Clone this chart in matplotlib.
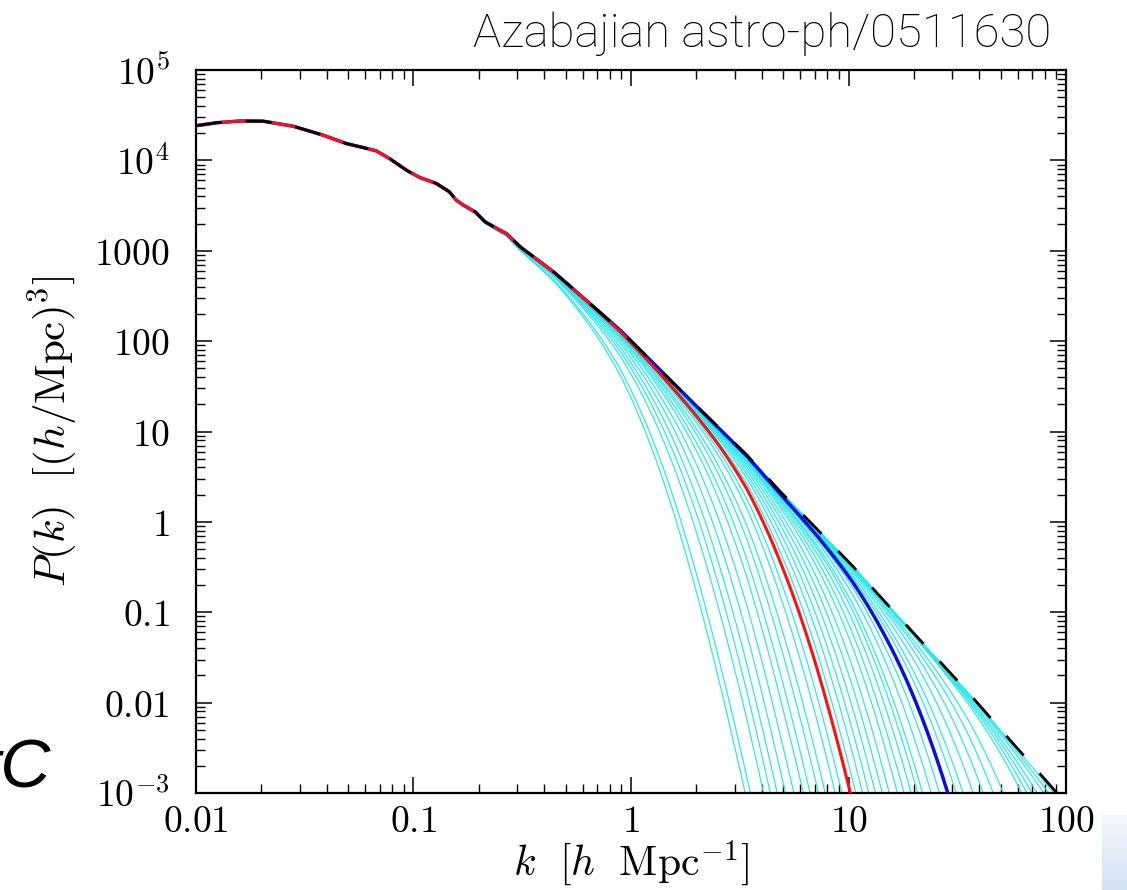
import numpy as np
import matplotlib
matplotlib.use("Agg")
import matplotlib.pyplot as plt
from matplotlib.ticker import LogLocator, NullFormatter

plt.rcParams['mathtext.fontset'] = 'cm'
plt.rcParams['font.family'] = ['DejaVu Serif']

# CDM power spectrum
k_cdm = [0.010, 0.0124, 0.0158, 0.0203, 0.0278, 0.0383, 0.0489, 0.0565, 0.0672,
         0.0773, 0.0925, 0.1064, 0.127, 0.146, 0.157, 0.169, 0.192, 0.213, 0.241,
         0.267, 0.309, 0.44, 0.62, 0.89, 1.27, 1.81, 3.41, 4.86, 7.1, 10.5, 14.9,
         21.7, 36.0, 51.5, 76.4, 100.0]
p_cdm = [24200, 26100, 27300, 27200, 24000, 19100, 15400, 14200, 12800,
         10560, 7830, 6500, 5580, 4510, 3650, 3210, 2700, 2100, 1770,
         1560, 1110, 587, 286, 133, 56.9, 24.3, 5.5, 2.16, 0.85, 0.32, 0.126,
         0.047, 0.0125, 0.00466, 0.0016, 0.00077]

# wavenumber where each suppressed curve meets P = 1e-3 (bottom of the plot)
k_cut_cyan = [3.35, 3.54, 4.07, 4.37, 4.70, 5.13, 5.61, 6.20, 6.66, 7.28, 7.82,
              8.69, 9.33, 10.8, 11.6, 12.4, 13.3, 14.3, 15.4, 16.8, 18.0, 19.4,
              20.8, 21.9, 24.0, 26.2, 31.3, 33.6, 37.4, 41.6, 46.3, 51.5, 62.6,
              66.1, 69.7, 73.6, 79.0, 83.2, 87.9]
k_cut_red = 10.2
k_cut_blue = 28.6

x_ticks = [0.01, 0.1, 1, 10, 100]
x_labels = [r'$\mathrm{0.01}$', r'$\mathrm{0.1}$', r'$\mathrm{1}$', r'$\mathrm{10}$', r'$\mathrm{100}$']
y_ticks = [1e-3, 1e-2, 1e-1, 1, 10, 100, 1000, 1e4, 1e5]
y_labels = [r'$10^{-3}$', r'$\mathrm{0.01}$', r'$\mathrm{0.1}$', r'$\mathrm{1}$', r'$\mathrm{10}$',
            r'$\mathrm{100}$', r'$\mathrm{1000}$', r'$10^{4}$', r'$10^{5}$']

p_floor = 1e-3
t_a, t_b = 2.4, 3.9   # shape of the small-scale suppression

kk = np.geomspace(0.01, 100, 1500)
pk_cdm = 10 ** np.interp(np.log10(kk), np.log10(k_cdm), np.log10(p_cdm))


def cdm_at(k):
    return 10 ** np.interp(np.log10(k), np.log10(k_cdm), np.log10(p_cdm))


def damped(kx):
    xa = np.exp(np.log(cdm_at(kx) / p_floor) / t_b) - 1.0
    k0 = kx / xa ** (1.0 / t_a)
    return pk_cdm * (1.0 + (kk / k0) ** t_a) ** (-t_b)


fig = plt.figure(figsize=(11.27, 8.90), dpi=100)
ax = fig.add_axes([0.1739, 0.1090, 0.7720, 0.8123])

for kx in k_cut_cyan:
    ax.plot(kk, damped(kx), color='#2ae8ea', lw=0.9, zorder=2)
ax.plot(kk, damped(k_cut_blue), color='#0a10e0', lw=2.5, zorder=3)
ax.plot(kk, damped(k_cut_red), color='#ff1010', lw=2.2, zorder=3.5)
ax.plot(k_cdm, p_cdm, color='black', lw=2.0, dashes=(9.4, 8.6), zorder=4)

ax.set_xscale('log')
ax.set_yscale('log')
ax.set_xlim(0.01, 100)
ax.set_ylim(1e-3, 1e5)

ax.set_xticks(x_ticks, x_labels)
ax.set_yticks(y_ticks, y_labels)
ax.xaxis.set_minor_locator(LogLocator(base=10, subs=np.arange(2, 10), numticks=20))
ax.yaxis.set_minor_locator(LogLocator(base=10, subs=np.arange(2, 10), numticks=20))
ax.xaxis.set_minor_formatter(NullFormatter())
ax.yaxis.set_minor_formatter(NullFormatter())
ax.tick_params(which='both', direction='in', top=True, right=True, labelsize=27)
ax.tick_params(which='major', length=11.5, width=1.1)
ax.tick_params(which='minor', length=6.5, width=1.0)
ax.tick_params(axis='x', which='major', pad=8)
ax.tick_params(axis='y', which='major', pad=19)
for sp in ax.spines.values():
    sp.set_linewidth(1.6)

ax.set_xlabel(r'$k\ \ [h\ \ \mathrm{Mpc}^{-1}]$', fontsize=30, labelpad=-1)
ax.set_ylabel(r'$P(k)\ \ [(h/\mathrm{Mpc})^3]$', fontsize=31, labelpad=10)

fig.text(0.933, 0.962, 'Azabajian astro-ph/0511630', ha='right', va='center',
         fontsize=34, family=['Roboto', 'DejaVu Sans'], fontweight='light')
fig.text(-0.016, 0.115, 'tC', ha='left', va='baseline', fontsize=50,
         family=['Liberation Sans', 'DejaVu Sans'], style='italic')

# pale blue strip in the lower right corner
gax = fig.add_axes([1102 / 1127, 0.0, 25 / 1127, 75 / 890])
grad = np.linspace(0, 1, 100).reshape(-1, 1)
gax.imshow(grad, aspect='auto', cmap=matplotlib.colors.LinearSegmentedColormap.from_list(
    'g', ['#d3e2f3', '#f4f8fd']), origin='lower')
gax.axis('off')

fig.savefig('out.png', dpi=100)
